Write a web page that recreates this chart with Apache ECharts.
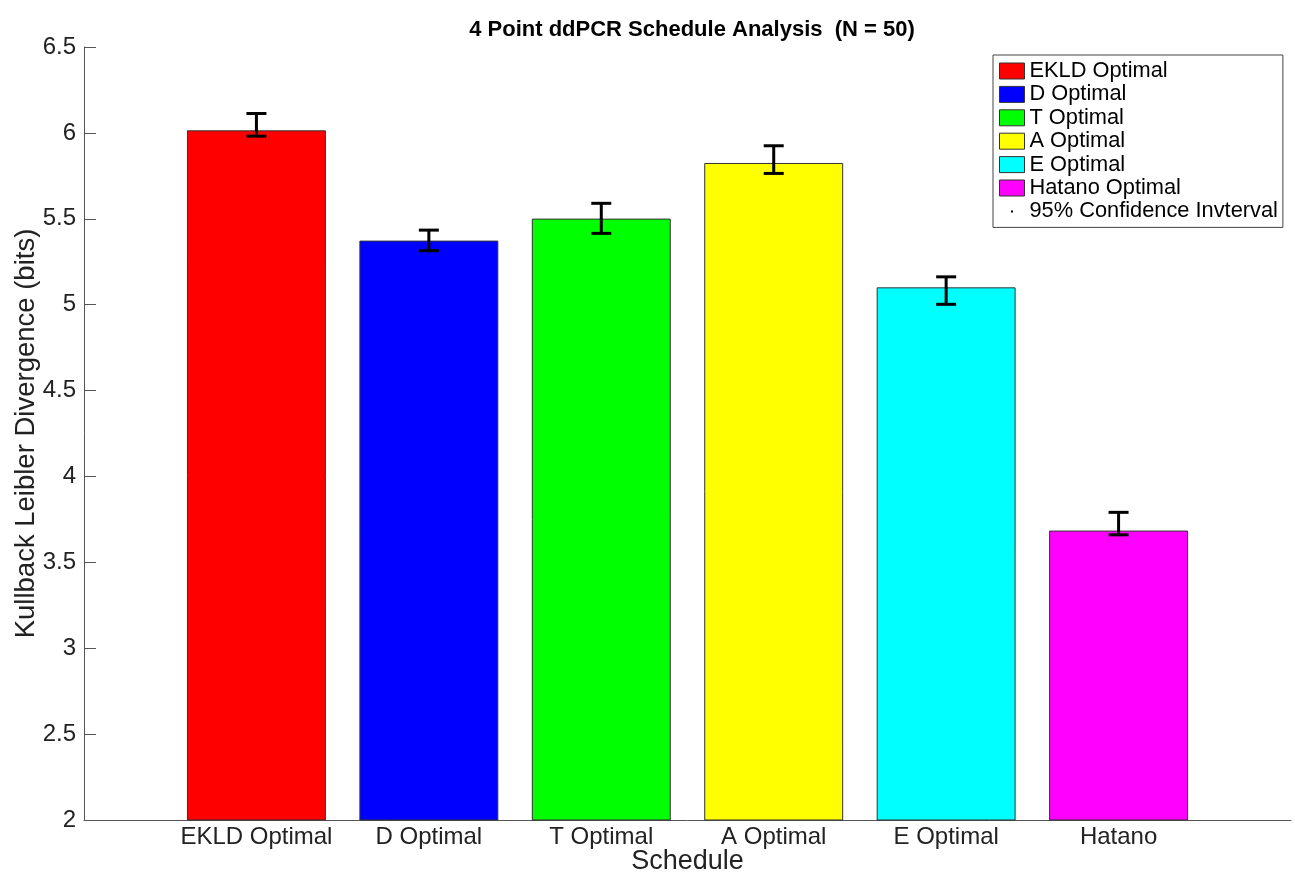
<!DOCTYPE html>
<html>
<head>
<meta charset="utf-8">
<script src="https://cdn.jsdelivr.net/npm/echarts@6/dist/echarts.min.js"></script>
<style>
html,body{margin:0;padding:0;background:#fff;}
#chart{width:1295px;height:876px;}
</style>
</head>
<body>
<div id="chart"></div>
<script>
const categories = ['EKLD Optimal', 'D Optimal', 'T Optimal', 'A Optimal', 'E Optimal', 'Hatano'];
const legendNames = ['EKLD Optimal', 'D Optimal', 'T Optimal', 'A Optimal', 'E Optimal', 'Hatano Optimal'];
const klMeans = [6.012, 5.370, 5.498, 5.822, 5.098, 3.682];
const ciLower = [5.981, 5.314, 5.415, 5.764, 5.002, 3.660];
const ciUpper = [6.113, 5.434, 5.590, 5.925, 5.162, 3.791];
const barColors = ['#ff0000', '#0000ff', '#00ff00', '#ffff00', '#00ffff', '#ff00ff'];
const ciName = '95% Confidence Invterval';
const yMin = 2, yMax = 6.5, yStep = 0.5;
const xMin = 0, xMax = categories.length + 1;
const FONT = 'Liberation Sans';

const chart = echarts.init(document.getElementById('chart'), null, {renderer: 'canvas'});

const barSeries = categories.map((c, i) => ({
  name: legendNames[i],
  type: 'custom',
  itemStyle: {color: barColors[i]},
  data: [[i + 1, klMeans[i]]],
  renderItem: function (params, api) {
    const x = api.value(0), v = api.value(1);
    const p0 = api.coord([x - 0.4, v]);
    const p1 = api.coord([x + 0.4, yMin]);
    return {
      type: 'rect',
      shape: {x: p0[0], y: p0[1], width: p1[0] - p0[0], height: p1[1] - p0[1]},
      style: {fill: api.visual('color'), stroke: '#333', lineWidth: 1}
    };
  },
  z: 2
}));

const errSeries = {
  name: ciName,
  type: 'custom',
  itemStyle: {color: '#000'},
  data: categories.map((c, i) => [i + 1, ciLower[i], ciUpper[i]]),
  renderItem: function (params, api) {
    const x = api.value(0);
    const lo = api.coord([x, api.value(1)]);
    const hi = api.coord([x, api.value(2)]);
    const hw = 10;
    const st = {stroke: '#000', lineWidth: 3};
    return {
      type: 'group',
      children: [
        {type: 'line', shape: {x1: lo[0], y1: lo[1], x2: hi[0], y2: hi[1]}, style: st},
        {type: 'line', shape: {x1: lo[0] - hw, y1: lo[1], x2: lo[0] + hw, y2: lo[1]}, style: st},
        {type: 'line', shape: {x1: hi[0] - hw, y1: hi[1], x2: hi[0] + hw, y2: hi[1]}, style: st}
      ]
    };
  },
  z: 3
};

const legendData = legendNames.map(n => ({name: n}));
legendData.push({
  name: ciName,
  icon: 'path://M0,0M24,16M11,7L13,7L13,9L11,9Z',
  itemStyle: {color: '#000', borderWidth: 0}
});

chart.setOption({
  backgroundColor: '#fff',
  animation: false,
  title: {
    text: '4 Point ddPCR Schedule Analysis  (N = 50)',
    left: 687,
    top: 14,
    textAlign: 'center',
    textStyle: {fontFamily: FONT, fontWeight: 'bold', fontSize: 22, color: '#000'}
  },
  legend: {
    orient: 'vertical',
    left: 993,
    top: 55,
    padding: [5, 5, 5, 6],
    itemWidth: 25,
    itemHeight: 16,
    itemGap: 1.4,
    icon: 'rect',
    borderColor: '#444',
    borderWidth: 1,
    backgroundColor: '#fff',
    itemStyle: {borderColor: '#333', borderWidth: 1},
    textStyle: {fontFamily: FONT, fontSize: 21.8, color: '#000', lineHeight: 22},
    data: legendData,
    selectedMode: false
  },
  grid: {left: 84, right: 4, top: 47, bottom: 56, containLabel: false, outerBoundsMode: 'none'},
  xAxis: {
    type: 'value',
    min: xMin,
    max: xMax,
    interval: 1,
    name: 'Schedule',
    nameLocation: 'middle',
    nameGap: 28,
    nameMoveOverlap: false,
    nameTextStyle: {fontFamily: FONT, fontSize: 27, color: '#222'},
    axisLine: {show: true, lineStyle: {color: '#555', width: 1}},
    axisTick: {show: false},
    splitLine: {show: false},
    axisLabel: {
      margin: 5,
      fontFamily: FONT, fontSize: 24, color: '#222',
      formatter: function (v) {
        const i = Math.round(v) - 1;
        return (i >= 0 && i < categories.length) ? categories[i] : '';
      }
    }
  },
  yAxis: {
    type: 'value',
    min: yMin,
    max: yMax,
    interval: yStep,
    name: 'Kullback Leibler Divergence (bits)',
    nameLocation: 'middle',
    nameGap: 44,
    nameMoveOverlap: false,
    nameTextStyle: {fontFamily: FONT, fontSize: 27.5, color: '#222'},
    axisLine: {show: true, lineStyle: {color: '#555', width: 1}},
    axisTick: {show: true, inside: true, length: 12, lineStyle: {color: '#555', width: 1}},
    splitLine: {show: false},
    axisLabel: {margin: 8, fontFamily: FONT, fontSize: 24, color: '#222'}
  },
  series: barSeries.concat([errSeries])
});
</script>
</body>
</html>
